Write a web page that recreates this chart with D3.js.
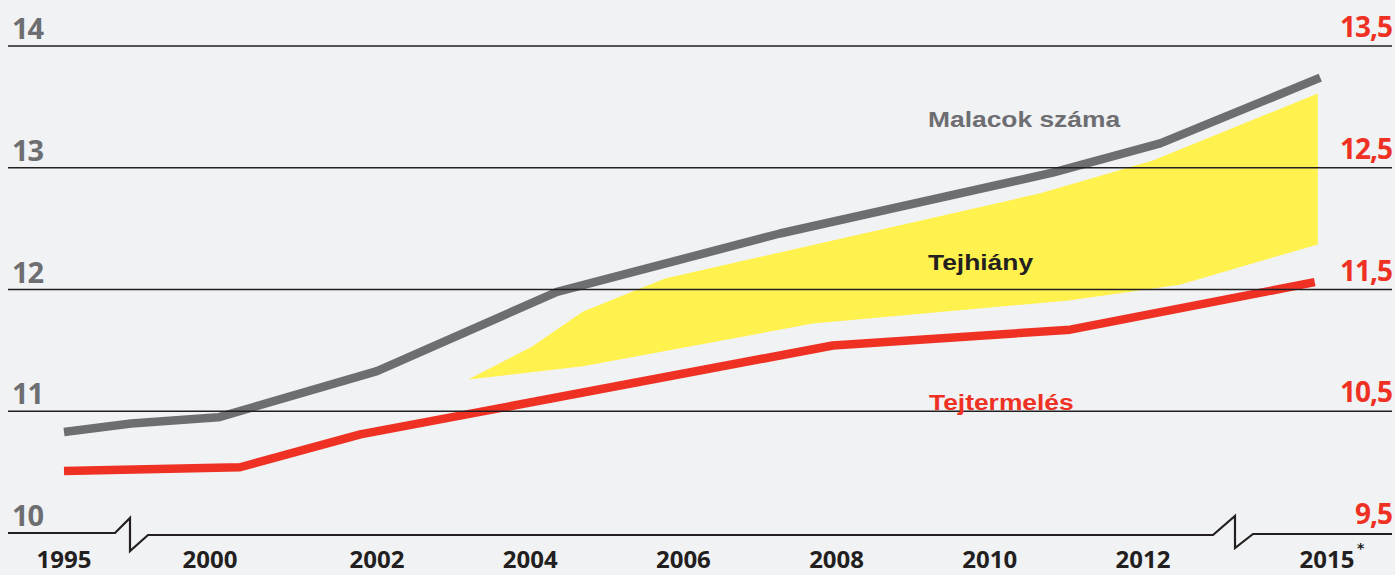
<!DOCTYPE html>
<html>
<head>
<meta charset="utf-8">
<script src="https://cdn.jsdelivr.net/npm/d3@7"></script>
<style>
  html, body { margin: 0; padding: 0; background: #f1f2f4; }
  svg { display: block; }
</style>
</head>
<body>
<div id="chart"></div>
<script>
var width = 1395;
var height = 575;

// tick labels
var yearTicks = [1995, 2000, 2002, 2004, 2006, 2008, 2010, 2012, 2015];
var leftTicks = [10, 11, 12, 13, 14];
var rightTicks = [9.5, 10.5, 11.5, 12.5, 13.5];

// Malacok száma (left axis)
var malacokYears = [1995, 1997.3, 2000.1, 2002, 2004.35, 2007.26, 2010.82, 2012.28, 2014.89];
var malacok = [10.83, 10.90, 10.95, 11.33, 11.98, 12.46, 12.96, 13.20, 13.74];

// Tejtermelés (right axis)
var tejYears = [1995, 2000.36, 2001.8, 2007.95, 2011.05, 2014.8];
var tejtermeles = [10.01, 10.04, 10.31, 11.04, 11.17, 11.56];

// Tejhiány band (left axis units)
var hianyUpperYears = [2003.19, 2004.02, 2004.69, 2005.76, 2010.66, 2012.16, 2014.85];
var hianyUpper = [11.26, 11.53, 11.82, 12.09, 12.79, 13.06, 13.61];
var hianyLowerYears = [2003.19, 2004.69, 2007.69, 2011.03, 2012.6, 2014.85];
var hianyLower = [11.26, 11.37, 11.72, 11.91, 12.04, 12.37];

var root = d3.select("#chart").append("svg")
    .attr("width", width)
    .attr("height", height);

root.append("rect")
    .attr("width", width)
    .attr("height", height)
    .attr("fill", "#f1f2f4");

// broken x axis: piecewise linear
var x = d3.scaleLinear()
    .domain([1995, 2000, 2002, 2012, 2015])
    .range([64, 210, 377, 1143, 1327]);

var yLeft = d3.scaleLinear().domain([10, 14]).range([533, 46]);
var yRight = d3.scaleLinear().domain([9.5, 13.5]).range([533, 46]);

var gray = "#6d6e71";
var red = "#ef3124";
var ink = "#231f20";

// yellow band
var bandPts = [];
for (var i = 0; i < hianyUpperYears.length; i++) {
    bandPts.push([hianyUpperYears[i], hianyUpper[i]]);
}
for (var j = hianyLowerYears.length - 1; j >= 0; j--) {
    bandPts.push([hianyLowerYears[j], hianyLower[j]]);
}
var bandLine = d3.line()
    .x(function(d){return x(d[0]);})
    .y(function(d){return yLeft(d[1]);});
root.append("path")
    .attr("d", bandLine(bandPts) + "Z")
    .attr("fill", "#fff24f");

// lines
var grayLine = d3.line()
    .x(function(d, i){return x(malacokYears[i]);})
    .y(function(d){return yLeft(d);});
root.append("path")
    .attr("d", grayLine(malacok))
    .attr("fill", "none")
    .attr("stroke", gray)
    .attr("stroke-width", 8.5)
    .attr("stroke-linejoin", "round");

var redLine = d3.line()
    .x(function(d, i){return x(tejYears[i]);})
    .y(function(d){return yRight(d);});
root.append("path")
    .attr("d", redLine(tejtermeles))
    .attr("fill", "none")
    .attr("stroke", red)
    .attr("stroke-width", 8.5)
    .attr("stroke-linejoin", "round");

// gridlines
root.selectAll(".grid")
    .data(leftTicks.slice(1))
    .enter()
    .append("line")
        .attr("x1", 8)
        .attr("x2", 1392)
        .attr("y1", function(d){return yLeft(d);})
        .attr("y2", function(d){return yLeft(d);})
        .attr("stroke", ink)
        .attr("stroke-width", 1.3);

// baseline with break marks
var by = yLeft(10);
root.append("path")
    .attr("d", "M8," + by + "H115L130," + (by - 15) + "V" + (by + 18) +
        "L148," + (by + 2) + "H1213L1235," + (by - 17) + "V" + (by + 15) +
        "L1253," + (by + 1) + "H1392")
    .attr("fill", "none")
    .attr("stroke", ink)
    .attr("stroke-width", 2.2);

// left axis labels
root.selectAll(".lt")
    .data(leftTicks)
    .enter()
    .append("text")
        .attr("x", 12)
        .attr("y", function(d){return yLeft(d) - 7;})
        .attr("fill", gray)
        .style("font-family", "'Open Sans', sans-serif")
        .style("font-weight", "bold")
        .style("font-size", "29px")
        .style("letter-spacing", "-1px")
        .text(function(d){return d;});

// right axis labels
root.selectAll(".rt")
    .data(rightTicks)
    .enter()
    .append("text")
        .attr("x", 1392)
        .attr("y", function(d){return yRight(d) - 9;})
        .attr("text-anchor", "end")
        .attr("fill", red)
        .style("font-family", "'Open Sans', sans-serif")
        .style("font-weight", "bold")
        .style("font-size", "28px")
        .style("letter-spacing", "-1px")
        .text(function(d){return String(d).replace(".", ",");});

// x labels
root.selectAll(".xt")
    .data(yearTicks)
    .enter()
    .append("text")
        .attr("x", function(d){return x(d);})
        .attr("y", 568)
        .attr("text-anchor", "middle")
        .attr("fill", ink)
        .style("font-family", "'Open Sans', sans-serif")
        .style("font-weight", "bold")
        .style("font-size", "24px")
        .text(function(d){return d;});

root.append("text")
    .attr("x", x(2015) + 30)
    .attr("y", 553)
    .attr("fill", ink)
    .style("font-family", "'DejaVu Sans', sans-serif")
    .style("font-weight", "bold")
    .style("font-size", "14px")
    .text("*");

// series labels
function seriesLabel(tx, ty, txt, col) {
    root.append("text")
        .attr("transform", "translate(" + tx + "," + ty + ") scale(1.2,1)")
        .attr("fill", col)
        .style("font-family", "'Liberation Sans', Arial, sans-serif")
        .style("font-weight", "bold")
        .style("font-size", "22px")
        .text(txt);
}
seriesLabel(928, 127, "Malacok száma", gray);
seriesLabel(928, 270, "Tejhiány", ink);
seriesLabel(929, 410, "Tejtermelés", red);
</script>
</body>
</html>
